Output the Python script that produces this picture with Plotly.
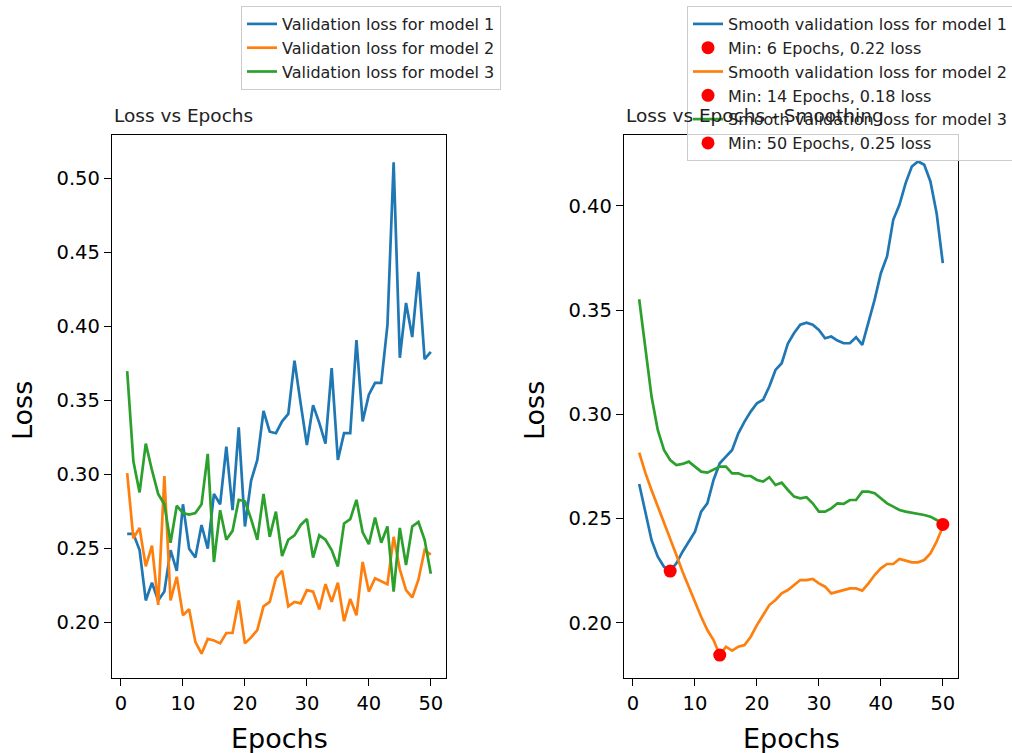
import numpy as np
import plotly.graph_objects as go

epochs = list(range(1, 51))

val_loss_1 = [0.260, 0.260, 0.249, 0.215, 0.227, 0.215, 0.221, 0.249, 0.235, 0.280,
              0.250, 0.244, 0.266, 0.250, 0.287, 0.280, 0.319, 0.276, 0.332, 0.265,
              0.296, 0.310, 0.343, 0.329, 0.328, 0.336, 0.341, 0.377, 0.348, 0.320,
              0.347, 0.335, 0.321, 0.372, 0.310, 0.328, 0.328, 0.391, 0.336, 0.354,
              0.362, 0.362, 0.401, 0.511, 0.379, 0.416, 0.393, 0.437, 0.378, 0.383]
val_loss_2 = [0.301, 0.257, 0.264, 0.238, 0.252, 0.212, 0.299, 0.215, 0.231, 0.205,
              0.209, 0.187, 0.179, 0.189, 0.188, 0.186, 0.193, 0.193, 0.215, 0.186,
              0.190, 0.195, 0.211, 0.214, 0.230, 0.235, 0.211, 0.214, 0.213, 0.222,
              0.221, 0.209, 0.226, 0.214, 0.227, 0.201, 0.216, 0.205, 0.241, 0.221,
              0.230, 0.228, 0.226, 0.258, 0.236, 0.222, 0.217, 0.229, 0.249, 0.246]
val_loss_3 = [0.370, 0.309, 0.288, 0.321, 0.303, 0.287, 0.280, 0.254, 0.279, 0.274,
              0.273, 0.274, 0.280, 0.314, 0.241, 0.276, 0.256, 0.262, 0.283, 0.282,
              0.270, 0.256, 0.287, 0.258, 0.275, 0.245, 0.256, 0.259, 0.266, 0.270,
              0.244, 0.259, 0.256, 0.249, 0.238, 0.267, 0.270, 0.283, 0.261, 0.253,
              0.271, 0.254, 0.265, 0.221, 0.264, 0.239, 0.265, 0.268, 0.256, 0.233]

smooth_loss_1 = [0.2666, 0.2525, 0.2396, 0.2317, 0.2269, 0.2248, 0.2285, 0.2341, 0.2389, 0.2437,
                 0.2533, 0.2573, 0.2685, 0.2765, 0.2797, 0.2829, 0.2909, 0.2965, 0.3013, 0.3053,
                 0.3070, 0.3133, 0.3213, 0.3245, 0.3340, 0.3390, 0.3430, 0.3440, 0.3430, 0.3405,
                 0.3365, 0.3373, 0.3354, 0.3341, 0.3341, 0.3370, 0.3333, 0.3437, 0.3550, 0.3677,
                 0.3757, 0.3933, 0.4005, 0.4109, 0.4189, 0.4213, 0.4197, 0.4117, 0.3965, 0.3725]
smooth_loss_2 = [0.2816, 0.2719, 0.2636, 0.2560, 0.2479, 0.2401, 0.2325, 0.2245, 0.2173, 0.2093,
                 0.2029, 0.1965, 0.1917, 0.1845, 0.1885, 0.1866, 0.1885, 0.1893, 0.1933, 0.1989,
                 0.2037, 0.2085, 0.2109, 0.2141, 0.2157, 0.2181, 0.2205, 0.2205, 0.2210, 0.2189,
                 0.2173, 0.2141, 0.2149, 0.2157, 0.2165, 0.2165, 0.2154, 0.2189, 0.2229, 0.2261,
                 0.2282, 0.2282, 0.2306, 0.2298, 0.2290, 0.2290, 0.2301, 0.2333, 0.2389, 0.2462]
smooth_loss_3 = [0.3552, 0.3308, 0.3084, 0.2925, 0.2829, 0.2781, 0.2757, 0.2762, 0.2773, 0.2749,
                 0.2725, 0.2720, 0.2733, 0.2749, 0.2749, 0.2717, 0.2717, 0.2704, 0.2704, 0.2685,
                 0.2677, 0.2698, 0.2661, 0.2672, 0.2637, 0.2605, 0.2597, 0.2602, 0.2573, 0.2533,
                 0.2533, 0.2549, 0.2573, 0.2570, 0.2589, 0.2589, 0.2629, 0.2629, 0.2621, 0.2597,
                 0.2573, 0.2557, 0.2541, 0.2533, 0.2528, 0.2522, 0.2517, 0.2509, 0.2493, 0.2472]

x_ticks = [0, 10, 20, 30, 40, 50]
y_ticks_left = [0.20, 0.25, 0.30, 0.35, 0.40, 0.45, 0.50]
y_ticks_right = [0.20, 0.25, 0.30, 0.35, 0.40]

colors = ["#1f77b4", "#ff7f0e", "#2ca02c"]
FONT = "DejaVu Sans"

fig = go.Figure()

raw = [val_loss_1, val_loss_2, val_loss_3]
for i, ys in enumerate(raw):
    fig.add_trace(go.Scatter(
        x=epochs, y=ys, mode="lines", name=f"Validation loss for model {i+1}",
        line=dict(color=colors[i], width=2.7), xaxis="x", yaxis="y",
        legend="legend", legendgroup=f"raw{i}"))

smooth = [smooth_loss_1, smooth_loss_2, smooth_loss_3]
for i, ys in enumerate(smooth):
    fig.add_trace(go.Scatter(
        x=epochs, y=ys, mode="lines", name=f"Smooth validation loss for model {i+1}",
        line=dict(color=colors[i], width=2.7), xaxis="x2", yaxis="y2",
        legend="legend2", legendgroup=f"smooth{i}"))
    k = int(np.argmin(ys))
    fig.add_trace(go.Scatter(
        x=[epochs[k]], y=[ys[k]], mode="markers",
        name=f"Min: {epochs[k]} Epochs, {ys[k]:.2f} loss",
        marker=dict(color="red", size=13), xaxis="x2", yaxis="y2",
        legend="legend2", legendgroup=f"min{i}"))

ML, MR, MT, MB = 112, 54, 135, 75
W, H = 1012, 753
PW, PH = W - ML - MR, H - MT - MB


def px(xp):
    return (xp - ML) / PW


def py(yp):
    return (H - MB - yp) / PH


axis_common = dict(
    showline=True, mirror=True, linecolor="black", linewidth=1.3,
    ticks="outside", ticklen=7, tickwidth=1.3, tickcolor="black",
    showgrid=False, zeroline=False,
    tickfont=dict(family=FONT, size=19.5, color="black"),
)

legend_common = dict(
    xanchor="left", yanchor="top", tracegroupgap=0,
    bgcolor="rgba(255,255,255,0.8)", bordercolor="#cccccc", borderwidth=1,
    font=dict(family=FONT, size=16, color="#222222"),
)

fig.update_layout(
    width=W, height=H,
    margin=dict(l=ML, r=MR, t=MT, b=MB, autoexpand=False),
    plot_bgcolor="white", paper_bgcolor="white",
    font=dict(family=FONT, color="black"),
    xaxis=dict(domain=[0, px(446)], range=[-1.45, 52.45], tickvals=x_ticks,
               anchor="y", **axis_common),
    yaxis=dict(domain=[0, 1], range=[0.1626, 0.5295], tickvals=y_ticks_left,
               tickformat=".2f", anchor="x", **axis_common),
    xaxis2=dict(domain=[px(624), 1], range=[-1.45, 52.45], tickvals=x_ticks,
                anchor="y2", **axis_common),
    yaxis2=dict(domain=[0, 1], range=[0.1735, 0.434], tickvals=y_ticks_right,
                tickformat=".2f", anchor="x2", **axis_common),
    legend=dict(x=px(241), y=py(6), **legend_common),
    legend2=dict(x=px(687), y=py(6), **legend_common),
    annotations=[
        dict(text="Loss vs Epochs", x=0, y=py(115), xref="paper", yref="paper",
             xanchor="left", yanchor="middle", showarrow=False,
             font=dict(family=FONT, size=18.5, color="#222222")),
        dict(text="Loss vs Epochs - Smoothing", x=px(624), y=py(115), xref="paper", yref="paper",
             xanchor="left", yanchor="middle", showarrow=False,
             font=dict(family=FONT, size=18.5, color="#222222")),
        dict(text="Epochs", x=px(279), y=py(738), xref="paper", yref="paper",
             xanchor="center", yanchor="middle", showarrow=False,
             font=dict(family=FONT, size=27, color="black")),
        dict(text="Epochs", x=px(791), y=py(738), xref="paper", yref="paper",
             xanchor="center", yanchor="middle", showarrow=False,
             font=dict(family=FONT, size=27, color="black")),
        dict(text="Loss", x=px(22), y=py(411), xref="paper", yref="paper", textangle=-90,
             xanchor="center", yanchor="middle", showarrow=False,
             font=dict(family=FONT, size=27, color="black")),
        dict(text="Loss", x=px(534), y=py(411), xref="paper", yref="paper", textangle=-90,
             xanchor="center", yanchor="middle", showarrow=False,
             font=dict(family=FONT, size=27, color="black")),
    ],
)

fig.write_html("out.html", config={"displayModeBar": False},
               post_script="document.body.style.margin='0px';")
